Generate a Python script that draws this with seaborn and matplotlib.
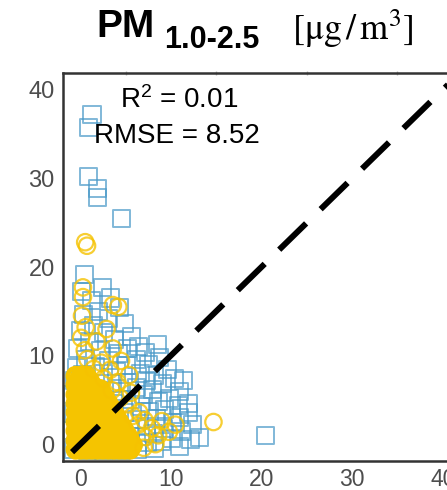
import numpy as np
import pandas as pd
import matplotlib
matplotlib.use("Agg")
import matplotlib.pyplot as plt
import seaborn as sns

# blue squares (reference instrument)
blue_pts = [
    (1.3, 37.2), (0.9, 35.7), (0.9, 30.2), (1.9, 28.9), (1.9, 27.9), (4.6, 25.5),
    (20.4, 1.0), (13.2, 0.8), (11.4, 7.2), (11.9, 4.6),
    (0.5, 19.1), (2.5, 17.7), (3.3, 16.5), (0.1, 17.2), (1.2, 16.2), (4.3, 15.4),
    (2.0, 15.0), (0.4, 14.6), (3.1, 14.2), (4.9, 13.6), (1.5, 13.4), (0.0, 12.8),
    (2.6, 12.6), (5.7, 12.2), (3.8, 11.8), (1.0, 11.6), (6.4, 11.0), (5.2, 10.8),
    (8.5, 11.2), (7.2, 10.4),
    (-0.3, 10.8), (2.2, 10.6), (4.2, 10.2), (8.8, 9.8), (6.2, 9.6), (0.6, 9.6),
    (3.1, 9.4), (7.5, 9.0), (5.1, 8.9), (1.7, 8.8), (-0.4, 8.6), (9.6, 8.4),
    (4.0, 8.2), (6.6, 8.0), (2.6, 8.0), (8.2, 7.8), (0.3, 7.9),
    (10.4, 7.4), (7.3, 7.2), (5.2, 7.0), (9.1, 6.8), (3.6, 6.8), (6.2, 6.4),
    (8.0, 6.2), (10.9, 6.0), (4.6, 5.9), (7.0, 5.6), (9.9, 5.1), (5.6, 5.0),
    (8.6, 4.8), (10.8, 4.4), (3.8, 4.6), (6.6, 4.3), (9.3, 3.9), (12.0, 3.6),
    (7.6, 3.7), (4.9, 3.6),
    (11.0, 3.0), (8.4, 2.9), (6.2, 2.8), (10.2, 2.4), (12.4, 2.2), (7.3, 2.0),
    (9.2, 1.8), (5.6, 1.6), (11.2, 1.4), (8.1, 1.2), (6.6, 0.9), (10.1, 0.6),
    (12.2, 0.5), (9.0, 0.3), (7.4, 0.2), (5.3, 0.1), (10.9, -0.3), (8.2, -0.5),
    (6.3, -0.6), (4.5, -0.7), (2.6, -0.7), (0.8, -0.7), (-0.7, -0.6), (-0.8, 1.5),
    (-0.7, 3.5), (-0.8, 5.6), (-0.6, 7.2),
    (1.0, 2.0), (3.0, 1.0), (2.0, 4.0), (4.0, 2.0), (0.5, 5.5),
]

# yellow circles, dense core near the origin
yellow_core = [
    (-0.5, -0.6), (0.1, -0.6), (0.7, -0.6), (1.3, -0.6), (1.9, -0.6), (2.5, -0.6), (3.1, -0.6), (3.7, -0.6), (4.3, -0.6), (4.9, -0.6), (5.5, -0.6),
    (-0.2, -0.1), (0.4, -0.1), (1.0, -0.1), (1.6, -0.1), (2.2, -0.1), (2.8, -0.1), (3.4, -0.1), (4.0, -0.1), (4.6, -0.1), (5.2, -0.1), (5.8, -0.1),
    (-0.5, 0.4), (0.1, 0.4), (0.7, 0.4), (1.3, 0.4), (1.9, 0.4), (2.5, 0.4), (3.1, 0.4), (3.7, 0.4), (4.3, 0.4), (4.9, 0.4), (5.5, 0.4),
    (-0.2, 1.0), (0.4, 1.0), (1.0, 1.0), (1.6, 1.0), (2.2, 1.0), (2.8, 1.0), (3.4, 1.0), (4.0, 1.0), (4.6, 1.0), (5.2, 1.0),
    (-0.5, 1.5), (0.1, 1.5), (0.7, 1.5), (1.3, 1.5), (1.9, 1.5), (2.5, 1.5), (3.1, 1.5), (3.7, 1.5), (4.3, 1.5), (4.9, 1.5),
    (-0.2, 2.0), (0.4, 2.0), (1.0, 2.0), (1.6, 2.0), (2.2, 2.0), (2.8, 2.0), (3.4, 2.0), (4.0, 2.0), (4.6, 2.0),
    (-0.5, 2.5), (0.1, 2.5), (0.7, 2.5), (1.3, 2.5), (1.9, 2.5), (2.5, 2.5), (3.1, 2.5), (3.7, 2.5), (4.3, 2.5),
    (-0.2, 3.0), (0.4, 3.0), (1.0, 3.0), (1.6, 3.0), (2.2, 3.0), (2.8, 3.0), (3.4, 3.0), (4.0, 3.0),
    (-0.5, 3.6), (0.1, 3.6), (0.7, 3.6), (1.3, 3.6), (1.9, 3.6), (2.5, 3.6), (3.1, 3.6), (3.7, 3.6),
    (-0.2, 4.1), (0.4, 4.1), (1.0, 4.1), (1.6, 4.1), (2.2, 4.1), (2.8, 4.1), (3.4, 4.1),
    (-0.5, 4.6), (0.1, 4.6), (0.7, 4.6), (1.3, 4.6), (1.9, 4.6), (2.5, 4.6), (3.1, 4.6),
    (-0.2, 5.1), (0.4, 5.1), (1.0, 5.1), (1.6, 5.1), (2.2, 5.1), (2.8, 5.1),
    (-0.5, 5.6), (0.1, 5.6), (0.7, 5.6), (1.3, 5.6), (1.9, 5.6), (2.5, 5.6),
    (-0.2, 6.2), (0.4, 6.2), (1.0, 6.2), (1.6, 6.2), (2.2, 6.2),
    (-0.5, 6.7), (0.1, 6.7), (0.7, 6.7), (1.3, 6.7),
    (-0.2, 7.2), (0.4, 7.2), (1.0, 7.2),
    (-0.5, 7.7), (0.1, 7.7), (0.7, 7.7),
]

# yellow circles scattered outside the core
yellow_spread = [
    (0.55, 22.8), (0.75, 22.4), (0.3, 17.7), (0.3, 16.6), (3.6, 15.7), (4.2, 15.5),
    (0.2, 14.5), (0.6, 13.2), (2.9, 13.0), (0.1, 12.0), (1.8, 11.6), (0.5, 10.6),
    (3.6, 10.8), (0.8, 9.6), (2.3, 9.2), (4.5, 9.4), (1.5, 8.5), (3.3, 8.4),
    (5.4, 7.8), (2.6, 7.4), (4.1, 7.0), (3.5, 6.1), (4.4, 5.2), (5.6, 5.8),
    (5.3, 4.5), (6.5, 3.6), (5.8, 3.2), (7.1, 2.7), (6.4, 2.2), (7.9, 1.8),
    (9.0, 2.6), (8.6, 1.0), (7.2, 0.8), (9.8, 1.4), (10.5, 2.2), (14.7, 2.5),
    (7.0, -0.4), (8.3, 0.0),
]

r2_text = "R$^2$ = 0.01"
rmse_text = "RMSE = 8.52"
ticks = [0, 10, 20, 30, 40]

blue_df = pd.DataFrame(blue_pts, columns=["x", "y"])
core_df = pd.DataFrame(yellow_core, columns=["x", "y"])
spread_df = pd.DataFrame(yellow_spread, columns=["x", "y"])

sns.set_style("white")
plt.rcParams["font.family"] = ["Liberation Sans", "DejaVu Sans"]
plt.rcParams["mathtext.fontset"] = "custom"
plt.rcParams["mathtext.rm"] = "Liberation Sans"
plt.rcParams["mathtext.it"] = "Liberation Sans:italic"
plt.rcParams["mathtext.bf"] = "Liberation Sans:bold"

fig = plt.figure(figsize=(4.47, 4.90), dpi=100)
ax = fig.add_axes([63 / 447, 29 / 490, 397 / 447, 388 / 490])

sns.scatterplot(data=blue_df, x="x", y="y", marker="s", s=150,
                facecolors="none", edgecolors="#4a9ac8", linewidths=1.4,
                alpha=0.7, ax=ax)
# many overlapping circles near the origin make the core look solid
sns.scatterplot(data=core_df, x="x", y="y", marker="o", s=125,
                facecolors="none", edgecolors="#f5c400", linewidths=3.5,
                alpha=1.0, ax=ax)
sns.scatterplot(data=spread_df, x="x", y="y", marker="o", s=140,
                facecolors="none", edgecolors="#f5c200", linewidths=1.6,
                alpha=0.8, ax=ax)

# 1:1 line
ax.plot([-0.9, 45], [-0.9, 45], color="black", lw=4.3, ls=(0, (6.3, 3.4)),
        solid_capstyle="butt")

ax.text(10.9, 38.8, r2_text, ha="center", va="center", fontsize=20, color="black")
ax.text(10.7, 34.8, rmse_text, ha="center", va="center", fontsize=20, color="black")

ax.set_xlim(-1.9, 41.9)
ax.set_ylim(-1.9, 41.9)
ax.set_xticks(ticks)
ax.set_yticks(ticks)
ax.set_xticks([5, 15, 25, 35], minor=True)
ax.set_yticks([5, 15, 25, 35], minor=True)
ax.set_xlabel("")
ax.set_ylabel("")
ax.tick_params(which="major", direction="out", length=3.5, width=1, color="#555555",
               labelsize=17, labelcolor="#4d4d4d", pad=2.5)
ax.tick_params(axis="x", which="major", labelsize=16.5, pad=1.5)
ax.tick_params(which="minor", direction="inout", length=3, width=1, color="#bbbbbb",
               top=True, right=True)
for s in ax.spines.values():
    s.set_color("#333333")
    s.set_linewidth(1.8)

# title pieces
fig.text(96 / 447, 453 / 490, "PM", fontsize=28, fontweight="bold",
         ha="left", va="baseline", color="black")
fig.text(164 / 447, 442 / 490, "1.0-2.5", fontsize=22, fontweight="bold",
         ha="left", va="baseline", color="black")
fig.text(292 / 447, 450 / 490, r"$[\mathrm{μg}\,/\,\mathrm{m}^3]$", fontsize=26,
         math_fontfamily="stix", ha="left", va="baseline", color="black")

fig.savefig("out.png", dpi=100)
